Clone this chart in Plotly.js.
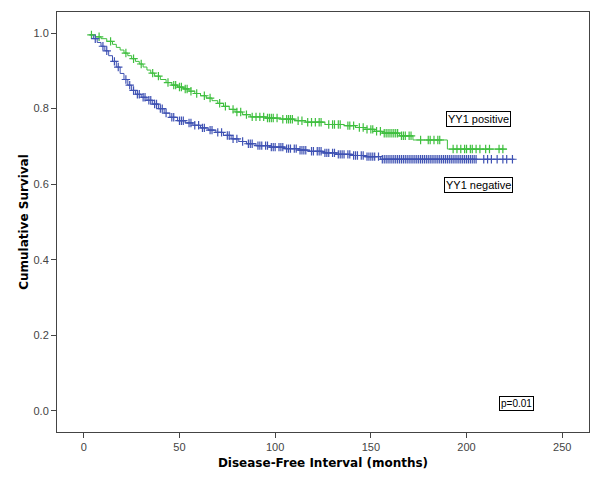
<!DOCTYPE html>
<html>
<head>
<meta charset="utf-8">
<script src="https://cdn.plot.ly/plotly-3.0.1.min.js"></script>
<style>html,body{margin:0;padding:0;background:#fff;}#chart{width:600px;height:481px;}</style>
</head>
<body>
<div id="chart"></div>
<script>
// YY1 positive: Kaplan-Meier step points (time in months, cumulative survival)
var posTimes = [0, 3, 6, 9, 12, 15, 17, 19, 21, 23, 25, 27, 29, 31, 33, 35, 37, 40, 43, 46, 49, 52, 55, 58, 61, 64, 67, 70, 73, 76, 79, 83, 87, 95, 103, 110, 116, 126, 136, 142, 147, 152, 156, 165, 172, 190, 221];
var posSurv  = [1.0, 0.995, 0.99, 0.985, 0.978, 0.97, 0.962, 0.955, 0.947, 0.94, 0.932, 0.925, 0.918, 0.91, 0.902, 0.894, 0.886, 0.877, 0.869, 0.862, 0.857, 0.852, 0.846, 0.84, 0.834, 0.828, 0.821, 0.814, 0.806, 0.798, 0.791, 0.784, 0.778, 0.775, 0.772, 0.768, 0.764, 0.758, 0.755, 0.75, 0.745, 0.74, 0.735, 0.728, 0.717, 0.693, 0.693];
var posCensor = [4, 8, 14, 22, 26, 30, 36, 39, 44, 47, 48, 50, 51, 53, 54, 56, 59, 63, 66, 71, 74, 78, 80, 82, 85, 88, 90, 92, 94, 96, 97, 98, 99, 101, 104, 106, 107, 108, 109, 112, 114, 117, 119, 121, 123, 124, 128, 130, 131, 133, 134, 138, 139, 141, 144, 146, 148, 150, 151, 153, 155, 157, 158, 159, 160, 161, 162, 163, 164, 166, 167, 168, 170, 171, 176, 180, 181, 183, 185, 186, 193, 195, 197, 199, 200, 202, 203, 205, 207, 210, 212, 217, 219];

// YY1 negative
var negTimes = [0, 3, 5, 7, 9, 11, 13, 15, 17, 19, 21, 23, 25, 27, 30, 33, 36, 39, 42, 45, 49, 53, 57, 61, 65, 69, 73, 77, 81, 85, 90, 97, 105, 112, 118, 125, 132, 140, 147, 155, 225];
var negSurv  = [1.0, 0.995, 0.985, 0.975, 0.965, 0.953, 0.94, 0.925, 0.91, 0.893, 0.877, 0.862, 0.848, 0.838, 0.83, 0.822, 0.812, 0.8, 0.788, 0.777, 0.768, 0.762, 0.756, 0.749, 0.743, 0.737, 0.729, 0.72, 0.713, 0.707, 0.702, 0.698, 0.694, 0.69, 0.687, 0.683, 0.679, 0.676, 0.673, 0.666, 0.666];
var negCensor = [6, 10, 12, 16, 18, 22, 24, 26, 28, 29, 31, 32, 34, 35, 37, 38, 40, 41, 43, 46, 47, 50, 51, 52, 55, 56, 58, 60, 62, 63, 66, 67, 70, 72, 75, 76, 78, 80, 83, 86, 87, 88, 91, 92, 93, 95, 96, 98, 99, 100, 102, 103, 104, 106, 107, 108, 110, 111, 113, 114, 115, 116, 119, 120, 122, 123, 124, 126, 127, 128, 130, 131, 133, 134, 135, 136, 138, 139, 141, 142, 143, 145, 146, 148, 149, 150, 151, 152, 154, 156, 157, 158, 159, 160, 161, 162, 163, 164, 165, 166, 167, 168, 169, 170, 171, 172, 173, 174, 175, 176, 177, 178, 179, 180, 181, 182, 183, 184, 185, 186, 187, 188, 189, 190, 191, 192, 193, 194, 195, 196, 197, 198, 199, 200, 201, 202, 203, 204, 205, 209, 211, 213, 216, 219, 221, 224];

var groupLabels = ["YY1 positive", "YY1 negative"];
var pText = "p=0.01";
var xTicks = [0, 50, 100, 150, 200, 250];
var yTicks = [0.0, 0.2, 0.4, 0.6, 0.8, 1.0];

var GREEN = "#3fbf3f", BLUE = "#3f52b3";

function stepAt(times, surv, t) {
  var s = surv[0];
  for (var i = 0; i < times.length; i++) { if (times[i] <= t) s = surv[i]; else break; }
  return s;
}
function censorY(times, surv, cens) { return cens.map(function (t) { return stepAt(times, surv, t); }); }

var traces = [
  {x: posTimes.slice(1), y: posSurv.slice(1), mode: "lines", line: {shape: "hv", color: GREEN, width: 1}, hoverinfo: "skip"},
  {x: negTimes.slice(1), y: negSurv.slice(1), mode: "lines", line: {shape: "hv", color: BLUE, width: 1}, hoverinfo: "skip"},
  {x: posCensor, y: censorY(posTimes, posSurv, posCensor), mode: "markers",
   marker: {symbol: "cross-thin-open", size: 6, color: GREEN, line: {color: GREEN, width: 1.2}}},
  {x: negCensor, y: censorY(negTimes, negSurv, negCensor), mode: "markers",
   marker: {symbol: "cross-thin-open", size: 6, color: BLUE, line: {color: BLUE, width: 1.2}}}
];

var tickFont = {family: "Liberation Sans, Arial, sans-serif", size: 11, color: "#444"};
var titleFont = {family: "DejaVu Sans, Verdana, sans-serif", size: 12, color: "#000", weight: "bold"};

var layout = {
  width: 600, height: 481,
  margin: {l: 57, r: 11, t: 12, b: 49},
  paper_bgcolor: "#fff", plot_bgcolor: "#fff",
  showlegend: false,
  xaxis: {
    range: [-14, 264], tickvals: xTicks, ticktext: xTicks.map(String),
    ticks: "outside", ticklen: 5, tickcolor: "#444", tickwidth: 1,
    showline: true, linecolor: "#444", linewidth: 1, mirror: true,
    showgrid: false, zeroline: false, tickfont: tickFont,
    title: {text: "Disease-Free Interval (months)", font: titleFont, standoff: 6}
  },
  yaxis: {
    range: [-0.0556, 1.0556], tickvals: yTicks, ticktext: yTicks.map(function (v) { return v.toFixed(1); }),
    ticks: "outside", ticklen: 5, tickcolor: "#444", tickwidth: 1,
    showline: true, linecolor: "#444", linewidth: 1, mirror: true,
    showgrid: false, zeroline: false, tickfont: tickFont,
    title: {text: "Cumulative Survival", font: titleFont, standoff: 2}
  },
  annotations: [
    {x: 206, y: 0.772, xref: "x", yref: "y", text: groupLabels[0], showarrow: false,
     font: {family: "Liberation Sans, Arial, sans-serif", size: 11, color: "#000"},
     bordercolor: "#000", borderwidth: 1, borderpad: 1, bgcolor: "#fff"},
    {x: 206.5, y: 0.598, xref: "x", yref: "y", text: groupLabels[1], showarrow: false,
     font: {family: "Liberation Sans, Arial, sans-serif", size: 11, color: "#000"},
     bordercolor: "#000", borderwidth: 1, borderpad: 1, bgcolor: "#fff"},
    {x: 226, y: 0.0185, xref: "x", yref: "y", text: pText, showarrow: false,
     font: {family: "Liberation Sans, Arial, sans-serif", size: 10, color: "#000"},
     bordercolor: "#000", borderwidth: 1, borderpad: 1, bgcolor: "#fff"}
  ]
};

Plotly.newPlot("chart", traces, layout, {staticPlot: true, displayModeBar: false});
</script>
</body>
</html>
